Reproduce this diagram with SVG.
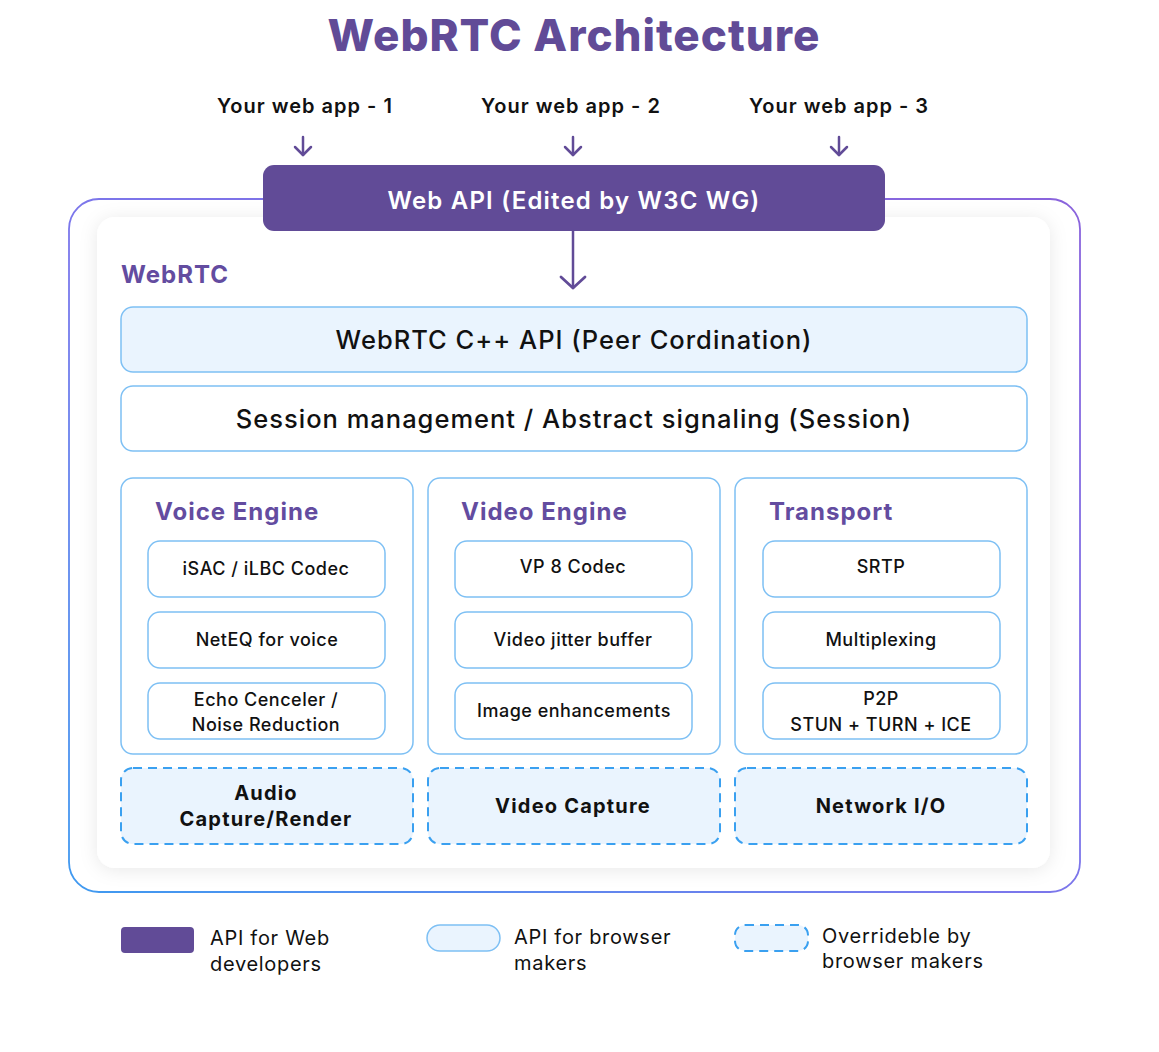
<svg xmlns="http://www.w3.org/2000/svg" width="1159" height="1052" viewBox="0 0 1159 1052">
  <defs>
    <linearGradient id="outerGrad" x1="0" y1="1" x2="1" y2="0">
      <stop offset="0" stop-color="#3f9af0"/>
      <stop offset="0.45" stop-color="#7a78ec"/>
      <stop offset="1" stop-color="#8a63dc"/>
    </linearGradient>
    <filter id="softShadow" x="-10%" y="-10%" width="120%" height="120%">
      <feDropShadow dx="0" dy="2" stdDeviation="9" flood-color="#000" flood-opacity="0.09"/>
    </filter>
    <marker id="chev" viewBox="0 0 12 20" refX="10" refY="10" markerWidth="12" markerHeight="20" markerUnits="userSpaceOnUse" orient="auto">
      <path d="M2 2 L10 10 L2 18" fill="none" stroke="#614b97" stroke-width="2.5" stroke-linecap="round" stroke-linejoin="round"/>
    </marker>
    <marker id="chevBig" viewBox="0 0 16 28" refX="13" refY="14" markerWidth="16" markerHeight="28" markerUnits="userSpaceOnUse" orient="auto">
      <path d="M2 2 L13 14 L2 26" fill="none" stroke="#614b97" stroke-width="2.8" stroke-linecap="round" stroke-linejoin="round"/>
    </marker>
  </defs>
  <style>
    text { font-family: "Inter", "Open Sans", "Liberation Sans", sans-serif; fill: #111; }
    .title { font-size: 44px; font-weight: 800; fill: #614b97; letter-spacing: 1px; }
    .app { font-size: 20px; font-weight: 600; letter-spacing: 1px; }
    .api { font-size: 24px; font-weight: 600; fill: #ffffff; letter-spacing: 1.2px; }
    .sect { font-size: 24px; font-weight: 700; fill: #634ca0; letter-spacing: 1px; }
    .big { font-size: 25.5px; font-weight: 500; letter-spacing: 1px; }
    .item { font-size: 18px; font-weight: 500; letter-spacing: 0.5px; }
    .cap { font-size: 20px; font-weight: 700; letter-spacing: 1.2px; }
    .leg { font-size: 20px; font-weight: 400; letter-spacing: 0.7px; }
    .solid { fill: #ffffff; stroke: #7ec0f4; stroke-width: 1.5; }
    .light { fill: #eaf4fe; stroke: #7ec0f4; stroke-width: 1.5; }
    .dash { fill: #eaf4fe; stroke: #3aa0f0; stroke-width: 2; stroke-dasharray: 9 6; }
    .conn { stroke: #614b97; stroke-width: 2.5; fill: none; stroke-linecap: round; }
  </style>

  <rect width="1159" height="1052" fill="#ffffff"/>

  <text class="title" x="574" y="51" text-anchor="middle">WebRTC Architecture</text>

  <g id="apps">
    <text class="app" x="305" y="113" text-anchor="middle">Your web app - 1</text>
    <text class="app" x="571" y="113" text-anchor="middle">Your web app - 2</text>
    <text class="app" x="839" y="113" text-anchor="middle">Your web app - 3</text>
  </g>

  <g id="outer-frame">
    <rect x="69" y="199" width="1011" height="693" rx="30" fill="#ffffff" stroke="url(#outerGrad)" stroke-width="1.8"/>
    <rect x="97" y="217" width="953" height="651" rx="18" fill="#ffffff" filter="url(#softShadow)"/>
  </g>

  <g id="web-api">
    <rect x="263" y="165" width="622" height="66" rx="11" fill="#614b97"/>
    <text class="api" x="574" y="209" text-anchor="middle">Web API (Edited by W3C WG)</text>
  </g>

  <g id="connectors">
    <line class="conn" x1="303" y1="137" x2="303" y2="155" marker-end="url(#chev)"/>
    <line class="conn" x1="573" y1="137" x2="573" y2="155" marker-end="url(#chev)"/>
    <line class="conn" x1="839" y1="137" x2="839" y2="155" marker-end="url(#chev)"/>
    <line class="conn" x1="573" y1="231" x2="573" y2="288" marker-end="url(#chevBig)"/>
  </g>

  <text class="sect" x="121" y="283">WebRTC</text>

  <g id="cpp-api">
    <rect class="light" x="121" y="307" width="906" height="65" rx="12"/>
    <text class="big" x="574" y="349" text-anchor="middle">WebRTC C++ API (Peer Cordination)</text>
  </g>
  <g id="session">
    <rect class="solid" x="121" y="386" width="906" height="65" rx="12"/>
    <text class="big" x="574" y="428" text-anchor="middle">Session management / Abstract signaling (Session)</text>
  </g>

  <g id="voice-engine">
    <rect class="solid" x="121" y="478" width="292" height="276" rx="12"/>
    <text class="sect" x="155" y="520">Voice Engine</text>
  </g>
  <g id="isac">
    <rect class="solid" x="148" y="541" width="237" height="56" rx="12"/>
    <text class="item" x="266" y="575" text-anchor="middle">iSAC / iLBC Codec</text>
  </g>
  <g id="neteq">
    <rect class="solid" x="148" y="612" width="237" height="56" rx="12"/>
    <text class="item" x="267" y="646" text-anchor="middle">NetEQ for voice</text>
  </g>
  <g id="echo">
    <rect class="solid" x="148" y="683" width="237" height="56" rx="12"/>
    <text class="item" x="266" y="706" text-anchor="middle">Echo Cenceler /</text>
    <text class="item" x="266" y="731" text-anchor="middle">Noise Reduction</text>
  </g>

  <g id="video-engine">
    <rect class="solid" x="428" y="478" width="292" height="276" rx="12"/>
    <text class="sect" x="461" y="520">Video Engine</text>
  </g>
  <g id="vp8">
    <rect class="solid" x="455" y="541" width="237" height="56" rx="12"/>
    <text class="item" x="573" y="573" text-anchor="middle">VP 8 Codec</text>
  </g>
  <g id="jitter">
    <rect class="solid" x="455" y="612" width="237" height="56" rx="12"/>
    <text class="item" x="573" y="646" text-anchor="middle">Video jitter buffer</text>
  </g>
  <g id="image">
    <rect class="solid" x="455" y="683" width="237" height="56" rx="12"/>
    <text class="item" x="574" y="717" text-anchor="middle">Image enhancements</text>
  </g>

  <g id="transport">
    <rect class="solid" x="735" y="478" width="292" height="276" rx="12"/>
    <text class="sect" x="769" y="520">Transport</text>
  </g>
  <g id="srtp">
    <rect class="solid" x="763" y="541" width="237" height="56" rx="12"/>
    <text class="item" x="881" y="573" text-anchor="middle">SRTP</text>
  </g>
  <g id="mux">
    <rect class="solid" x="763" y="612" width="237" height="56" rx="12"/>
    <text class="item" x="881" y="646" text-anchor="middle">Multiplexing</text>
  </g>
  <g id="p2p">
    <rect class="solid" x="763" y="683" width="237" height="56" rx="12"/>
    <text class="item" x="881" y="705" text-anchor="middle">P2P</text>
    <text class="item" x="881" y="731" text-anchor="middle">STUN + TURN + ICE</text>
  </g>

  <g id="audio-capture">
    <rect class="dash" x="121" y="768" width="292" height="76" rx="12"/>
    <text class="cap" x="266" y="800" text-anchor="middle">Audio</text>
    <text class="cap" x="266" y="826" text-anchor="middle">Capture/Render</text>
  </g>
  <g id="video-capture">
    <rect class="dash" x="428" y="768" width="292" height="76" rx="12"/>
    <text class="cap" x="573" y="813" text-anchor="middle">Video Capture</text>
  </g>
  <g id="network-io">
    <rect class="dash" x="735" y="768" width="292" height="76" rx="12"/>
    <text class="cap" x="881" y="813" text-anchor="middle">Network I/O</text>
  </g>

  <g id="legend-web">
    <rect x="121" y="927" width="73" height="26" rx="4" fill="#614b97"/>
    <text class="leg" x="210" y="945">API for Web</text>
    <text class="leg" x="210" y="971">developers</text>
  </g>
  <g id="legend-browser">
    <rect class="light" x="427" y="925" width="73" height="26" rx="13"/>
    <text class="leg" x="514" y="944">API for browser</text>
    <text class="leg" x="514" y="970">makers</text>
  </g>
  <g id="legend-override">
    <rect class="dash" x="735" y="925" width="73" height="26" rx="10" stroke-dasharray="7 5"/>
    <text class="leg" x="822" y="943">Overrideble by</text>
    <text class="leg" x="822" y="968">browser makers</text>
  </g>
</svg>
